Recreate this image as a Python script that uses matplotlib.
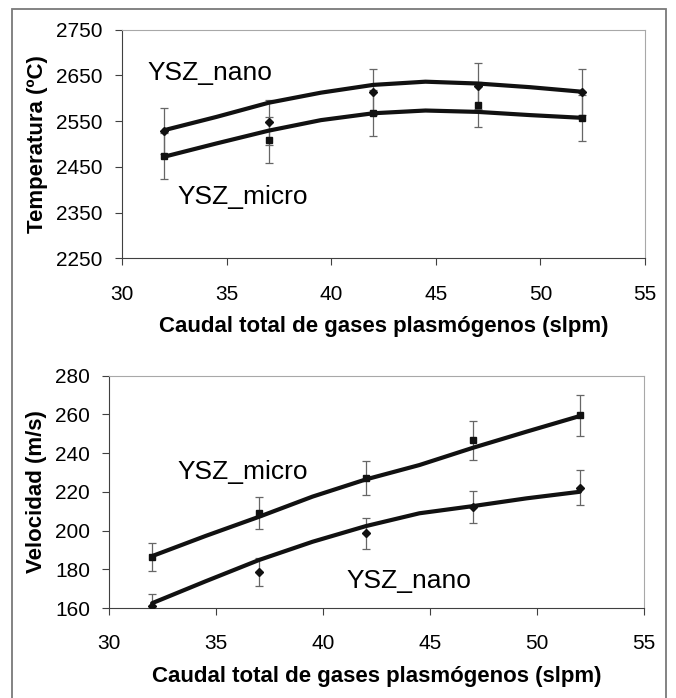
import matplotlib
matplotlib.use('Agg')
import matplotlib.pyplot as plt
from matplotlib.patches import Rectangle

plt.rcParams['font.family'] = ['Liberation Sans', 'DejaVu Sans']

# caudal total de gases (slpm)
caudal = [32, 37, 42, 47, 52]

# temperatura medida (ºC) y su error
temp_nano = [2529, 2547, 2614, 2626, 2613]
temp_micro = [2473, 2508, 2567, 2586, 2557]
temp_err_nano = [50, 50, 50, 50, 50]
temp_err_micro = [50, 50, 50, 50, 50]

# velocidad medida (m/s) y su error
vel_micro = [186.3, 209.0, 227.2, 246.5, 259.4]
vel_nano = [160.9, 178.7, 198.5, 212.0, 222.0]
vel_err_micro = [7.2, 8.1, 8.9, 9.9, 10.5]
vel_err_nano = [6.5, 7.2, 7.8, 8.2, 9.0]

# lineas de tendencia
trend_x = [32, 34.5, 37, 39.5, 42, 44.5, 47, 49.5, 52]
trend_temp_nano = [2530, 2559, 2590, 2612, 2629, 2636, 2632, 2624, 2614]
trend_temp_micro = [2472, 2501, 2529, 2552, 2567, 2573, 2570, 2563, 2557]
trend_vel_micro = [186.8, 197.2, 207.1, 217.5, 226.4, 233.8, 242.7, 251.0, 259.1]
trend_vel_nano = [162.5, 173.8, 184.8, 194.2, 202.3, 208.9, 212.6, 216.6, 220.0]

xlabel = 'Caudal total de gases plasmógenos (slpm)'


def style_axes(ax):
    for s in ['left', 'bottom']:
        ax.spines[s].set_color('#404040')
        ax.spines[s].set_linewidth(0.8)
    for s in ['top', 'right']:
        ax.spines[s].set_color('#a8a8a8')
        ax.spines[s].set_linewidth(0.8)
    ax.tick_params(direction='out', length=5, width=0.8, color='#404040', labelsize=15)
    ax.tick_params(axis='y', pad=9)
    ax.tick_params(axis='x', pad=14)
    ax.set_xlim(30, 55)
    ax.set_xticks(range(30, 56, 5))
    ax.set_xlabel(xlabel, fontsize=16, fontweight='bold', labelpad=9)


def draw(ax, y_a, e_a, m_a, y_b, e_b, m_b, ty_a, ty_b):
    for y, e, m in [(y_a, e_a, m_a), (y_b, e_b, m_b)]:
        ax.errorbar(caudal, y, yerr=e, fmt='none', ecolor='#666666',
                    elinewidth=0.9, capsize=3, capthick=0.9, zorder=2)
    ax.plot(trend_x, ty_a, color='#111111', lw=3, solid_joinstyle='round',
            solid_capstyle='round', zorder=3)
    ax.plot(trend_x, ty_b, color='#111111', lw=3, solid_joinstyle='round',
            solid_capstyle='round', zorder=3)
    ax.plot(caudal, y_a, ls='none', marker=m_a, ms=3.8, color='#111111', zorder=4)
    ax.plot(caudal, y_b, ls='none', marker=m_b, ms=3.8, color='#111111', zorder=4)


fig = plt.figure(figsize=(6.76, 6.98), dpi=100)

ax1 = fig.add_axes([0.1809, 0.6299, 0.7732, 0.3278])
draw(ax1, temp_nano, temp_err_nano, 'D', temp_micro, temp_err_micro, 's',
     trend_temp_nano, trend_temp_micro)
style_axes(ax1)
ax1.set_ylim(2250, 2750)
ax1.set_yticks(range(2250, 2751, 100))
ax1.set_ylabel('Temperatura (ºC)', fontsize=16, fontweight='bold', labelpad=6)
ax1.text(31.2, 2655, 'YSZ_nano', fontsize=19, ha='left', va='center')
ax1.text(32.65, 2385, 'YSZ_micro', fontsize=19, ha='left', va='center')

ax2 = fig.add_axes([0.1618, 0.1289, 0.7908, 0.3331])
draw(ax2, vel_micro, vel_err_micro, 's', vel_nano, vel_err_nano, 'D',
     trend_vel_micro, trend_vel_nano)
style_axes(ax2)
ax2.set_ylim(160, 280)
ax2.set_yticks(range(160, 281, 20))
ax2.set_ylabel('Velocidad (m/s)', fontsize=16, fontweight='bold', labelpad=6)
ax2.text(33.17, 230.2, 'YSZ_micro', fontsize=19, ha='left', va='center')
ax2.text(41.1, 173.9, 'YSZ_nano', fontsize=19, ha='left', va='center')

# marco exterior
fig.patches.append(Rectangle((11.5 / 676, -0.05), (666 - 11.5) / 676, 1.05 - 8.5 / 698,
                             transform=fig.transFigure, fill=False,
                             edgecolor='#7a7a7a', linewidth=1.3))

fig.savefig('out.png', dpi=100)
